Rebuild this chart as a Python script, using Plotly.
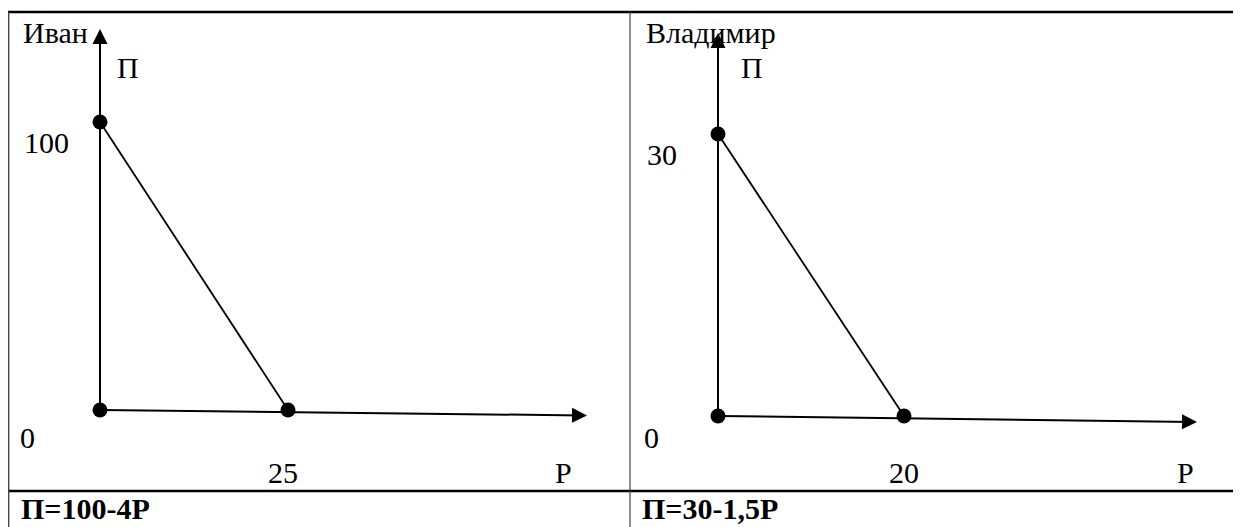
"""Profit vs price sketches for two people, drawn in a two-cell table."""

import plotly.graph_objects as go

# the page puts the plot 8px in from the top-left corner of the window
OFF = 8
W, H = 1241 - OFF, 527 - OFF

# data
names = ["Иван", "Владимир"]
price_at_zero_profit = [25, 20]  # P where П = 0
profit_at_zero_price = [100, 30]  # П where P = 0
formulas = ["П=100-4Р", "П=30-1,5Р"]

FONT = "Liberation Serif"
BLACK = "#000000"

# pixel anchors (window pixels) of each panel
panels = [
    {"x0": 100, "y0": 410, "xp": 288, "yp": 122, "cell": (OFF, 630),
     "xtip": (587, 415.5), "ytip": 29, "name_x": 21, "pi_x": 128,
     "zero_x": 27, "p_x": 563, "tick_shift": -5, "form_x": 19},
    {"x0": 718, "y0": 416, "xp": 904, "yp": 134, "cell": (630, 1241),
     "xtip": (1197, 422), "ytip": 33, "name_x": 644, "pi_x": 752,
     "zero_x": 651, "p_x": 1185, "tick_shift": 0, "form_x": 640},
]


def px_x(x):
    return (x - OFF) / W


def px_y(y):
    return 1 - (y - OFF) / H


fig = go.Figure()
annotations = []

for i, pan in enumerate(panels):
    pmax = price_at_zero_profit[i]
    pimax = profit_at_zero_price[i]
    sx = (pan["xp"] - pan["x0"]) / pmax
    sy = (pan["y0"] - pan["yp"]) / pimax
    left, right = pan["cell"]

    xa = "x" if i == 0 else "x2"
    ya = "y" if i == 0 else "y2"
    xkey = "xaxis" if i == 0 else "xaxis2"
    ykey = "yaxis" if i == 0 else "yaxis2"

    fig.update_layout({
        xkey: dict(domain=[px_x(left), px_x(right)],
                   range=[(left - pan["x0"]) / sx, (right - pan["x0"]) / sx],
                   visible=False, fixedrange=True),
        ykey: dict(domain=[0, 1],
                   range=[(pan["y0"] - 527) / sy, (pan["y0"] - OFF) / sy],
                   visible=False, fixedrange=True),
    })
    if i == 1:
        fig.update_layout(xaxis2_anchor="y2", yaxis2_anchor="x2")

    # axis ends in data units
    x_end = (pan["xtip"][0] - pan["x0"]) / sx
    x_end_y = (pan["y0"] - pan["xtip"][1]) / sy
    y_end = (pan["y0"] - pan["ytip"]) / sy

    # axes with arrowheads
    for tip, tail in [((x_end, x_end_y), (0, 0)), ((0, y_end), (0, 0))]:
        annotations.append(dict(
            x=tip[0], y=tip[1], ax=tail[0], ay=tail[1],
            xref=xa, yref=ya, axref=xa, ayref=ya,
            text="", showarrow=True, arrowhead=2, arrowsize=1.5,
            arrowwidth=2, arrowcolor=BLACK,
        ))

    # the line between intercepts
    fig.add_trace(go.Scatter(
        x=[0, pmax], y=[pimax, 0], xaxis=xa, yaxis=ya,
        mode="lines", line=dict(color=BLACK, width=1.8),
        showlegend=False, hoverinfo="skip",
    ))
    # dots
    fig.add_trace(go.Scatter(
        x=[0, 0, pmax], y=[0, pimax, 0], xaxis=xa, yaxis=ya,
        mode="markers", marker=dict(color=BLACK, size=15),
        showlegend=False, hoverinfo="skip",
    ))

    txt = dict(font=dict(family=FONT, size=30, color=BLACK), showarrow=False)
    annotations += [
        dict(text=names[i], xref="paper", yref="paper",
             x=px_x(pan["name_x"]), y=px_y(33), xanchor="left",
             yanchor="middle", **txt),
        dict(text="П", xref="paper", yref="paper",
             x=px_x(pan["pi_x"]), y=px_y(67), xanchor="center",
             yanchor="middle", **txt),
        dict(text=str(pimax), xref="paper", yref=ya,
             x=px_x(pan["name_x"] + 1), y=pimax, yshift=-20,
             xanchor="left", yanchor="middle", **txt),
        dict(text="0", xref="paper", yref="paper",
             x=px_x(pan["zero_x"]), y=px_y(437), xanchor="center",
             yanchor="middle", **txt),
        dict(text=str(pmax), xref=xa, yref="paper",
             x=pmax, xshift=pan["tick_shift"], y=px_y(472),
             xanchor="center", yanchor="middle", **txt),
        dict(text="Р", xref="paper", yref="paper",
             x=px_x(pan["p_x"]), y=px_y(472), xanchor="center",
             yanchor="middle", **txt),
        dict(text=f"<b>{formulas[i]}</b>", xref="paper", yref="paper",
             x=px_x(pan["form_x"]), y=px_y(508), xanchor="left",
             yanchor="middle", **txt),
    ]

# table rules
shapes = [
    dict(type="line", xref="paper", yref="paper", x0=0, x1=1,
         y0=px_y(12), y1=px_y(12), line=dict(color=BLACK, width=2.5)),
    dict(type="line", xref="paper", yref="paper", x0=0, x1=1,
         y0=px_y(491), y1=px_y(491), line=dict(color=BLACK, width=2.5)),
    dict(type="line", xref="paper", yref="paper", x0=0.0005, x1=0.0005,
         y0=px_y(12), y1=0, line=dict(color="#444444", width=1.5)),
    dict(type="line", xref="paper", yref="paper", x0=px_x(630), x1=px_x(630),
         y0=px_y(12), y1=0, line=dict(color="#444444", width=1.2)),
]

fig.update_layout(
    width=W, height=H,
    margin=dict(l=0, r=0, t=0, b=0),
    paper_bgcolor="white", plot_bgcolor="white",
    annotations=annotations, shapes=shapes,
    showlegend=False,
)

fig.write_html("out.html")
